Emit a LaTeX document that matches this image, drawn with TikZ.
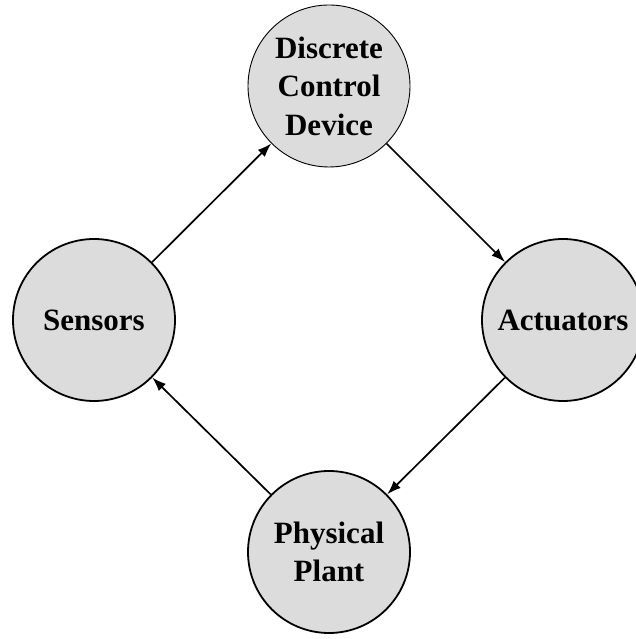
\documentclass[tikz,border=0pt]{standalone}
\usepackage{fontspec}
\setmainfont{Liberation Serif}
\usepackage{tikz}
\usetikzlibrary{arrows.meta}

\definecolor{nodegray}{RGB}{220,220,220}

\begin{document}
\begin{tikzpicture}[x=1pt,y=1pt,
  block/.style={circle,draw=black,line width=1.8pt,fill=nodegray,minimum size=162pt,inner sep=0pt,
    align=center,font=\fontsize{31}{38.5}\selectfont\bfseries},
  link/.style={line width=1.7pt,-{Latex[length=14pt,width=10pt]}}]
\useasboundingbox (0,0) rectangle (636,639);
\clip (0,0) rectangle (636,639);
% the four stages of the loop
\node[block,line width=0.9pt] (ctrl) at (329,553) {Discrete\\Control\\Device};
\node[block] (sens) at (94,319) {Sensors};
\node[block] (act) at (563,319) {Actuators};
\node[block] (plant) at (329,87) {Physical\\Plant};
% connectors
\draw[link] (sens) -- (ctrl);
\draw[link] (ctrl) -- (act);
\draw[link] (act) -- (plant);
\draw[link] (plant) -- (sens);
\end{tikzpicture}
\end{document}
